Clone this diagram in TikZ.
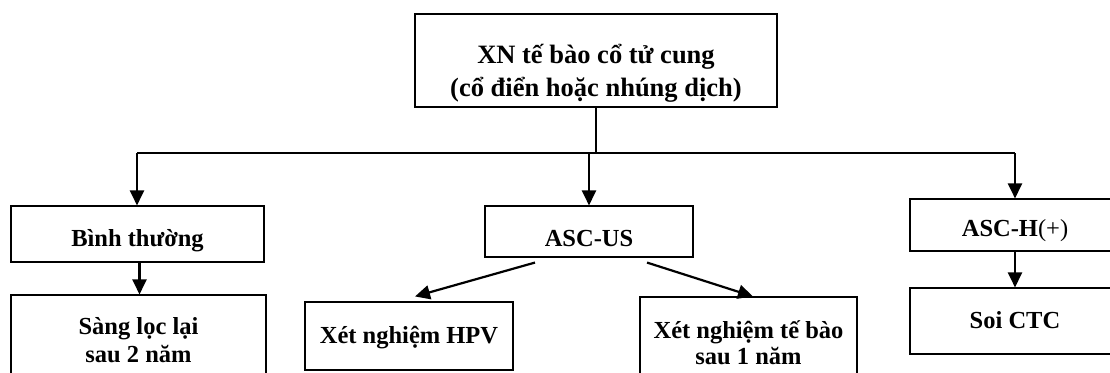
\documentclass[tikz,border=0pt]{standalone}
\usepackage{fontspec}
\setmainfont{Liberation Serif}
\usetikzlibrary{arrows.meta}
% #1 = raise of the first baseline above the box centre, #2 = lines
\newcommand\boxtext[2]{\raisebox{#1}[0pt][0pt]{\begin{tabular}[t]{@{}c@{}}#2\end{tabular}}}
\tikzset{
  box/.style={draw=black, line width=1.1pt, inner sep=0pt, align=center,
    font=\bfseries\fontsize{24.5}{28}\selectfont},
  topbox/.style={box, font=\bfseries\fontsize{26.5}{33.5}\selectfont},
  conn/.style={draw=black, line width=1.6pt},
  arr/.style={draw=black, line width=2.2pt, -{Triangle[length=15pt,width=14pt]}}
}
\begin{document}
\begin{tikzpicture}[x=1pt,y=-1pt]
\clip (0,0) rectangle (1110,372);
\fill[white] (0,0) rectangle (1110,372);
% nodes
\node[topbox, minimum width=362pt, minimum height=93pt] (top) at (596,60.5)
  {\boxtext{-2.5pt}{XN tế bào cổ tử cung\\(cổ điển hoặc nhúng dịch)}};
\node[box, minimum width=253pt, minimum height=56pt] (binh) at (137.5,234)
  {\boxtext{-12.5pt}{Bình thường}};
\node[box, minimum width=255pt, minimum height=96pt] (sang) at (138.5,343)
  {\boxtext{9pt}{Sàng lọc lại\\sau 2 năm}};
\node[box, minimum width=208pt, minimum height=51pt] (ascus) at (589,231.5)
  {\boxtext{-15pt}{ASC-US}};
\node[box, minimum width=208pt, minimum height=68pt] (hpv) at (409,336)
  {\boxtext{-7pt}{Xét nghiệm HPV}};
\node[box, minimum width=217pt, minimum height=104pt] (tebao) at (748.5,349)
  {\fontsize{24.5}{26.5}\selectfont\boxtext{11pt}{Xét nghiệm tế bào\\sau 1 năm}};
\node[box, minimum width=210pt, minimum height=52pt] (asch) at (1015,225)
  {\boxtext{-11pt}{ASC-H\mdseries(+)}};
\node[box, minimum width=210pt, minimum height=66pt] (soi) at (1015,321)
  {\boxtext{-7pt}{Soi CTC}};
% junctions
\coordinate (jm) at (596,153);
\coordinate (jl) at (137,153);
\coordinate (ju) at (589,153);
\coordinate (jr) at (1015,153);
% connectors
\draw[conn] (top.south) -- (jm);
\draw[conn] (jl) -- (jr);
\draw[arr] (jl) -- (jl |- binh.north);
\draw[arr] (ju) -- (ascus.north);
\draw[arr] (jr) -- (asch.north);
\draw[arr] ([xshift=2pt]binh.south) -- ([xshift=2pt]binh.south |- sang.north);
\draw[arr] ([xshift=-54pt,yshift=-5pt]ascus.south) -- ([xshift=6pt,yshift=5pt]hpv.north);
\draw[arr] ([xshift=58pt,yshift=-5pt]ascus.south) -- ([xshift=4.5pt]tebao.north);
\draw[arr] (asch.south) -- (soi.north);
\end{tikzpicture}
\end{document}
